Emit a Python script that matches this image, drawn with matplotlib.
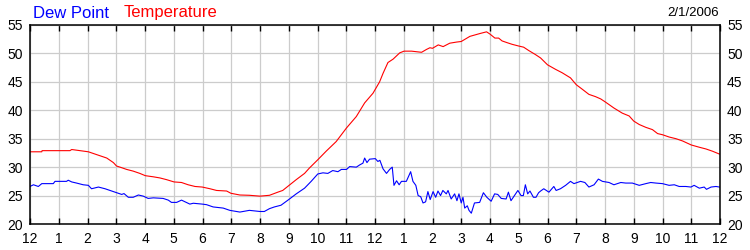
import numpy as np
import matplotlib.pyplot as plt

plt.rcParams['font.family'] = ['Liberation Sans', 'DejaVu Sans']

# hours since midnight
temp_hours = [0.0, 0.41, 0.42, 1.39, 1.45, 1.74, 2.03, 2.32, 2.67, 2.90, 3.01, 3.19, 3.36, 3.59,
              3.82, 4.01, 4.29, 4.52, 4.75, 5.01, 5.27, 5.50, 5.74, 5.99, 6.26, 6.49, 6.84, 6.99,
              7.30, 7.63, 8.0, 8.33, 8.62, 8.79, 9.0, 9.26, 9.55, 9.72, 10.01, 10.30, 10.65, 11.01,
              11.35, 11.64, 11.93, 12.16, 12.28, 12.45, 12.63, 12.86, 13.01, 13.27, 13.62, 13.79,
              13.91, 14.0, 14.20, 14.37, 14.60, 14.84, 15.0, 15.30, 15.65, 15.88, 16.0, 16.17,
              16.30, 16.42, 16.59, 16.77, 17.0, 17.17, 17.35, 17.58, 17.76, 18.0, 18.28, 18.51,
              18.80, 19.0, 19.21, 19.44, 19.67, 19.85, 20.0, 20.31, 20.60, 20.84, 21.0, 21.19,
              21.42, 21.65, 21.83, 22.0, 22.23, 22.47, 22.70, 23.0, 23.28, 23.51, 23.74, 23.98]
temperature = [32.7, 32.7, 32.9, 32.9, 33.1, 32.9, 32.7, 32.2, 31.6, 30.8, 30.2, 29.9, 29.6, 29.3,
               28.9, 28.5, 28.3, 28.1, 27.8, 27.4, 27.3, 26.9, 26.6, 26.5, 26.2, 25.9, 25.8, 25.4,
               25.1, 25.05, 24.9, 25.05, 25.6, 25.9, 26.75, 27.8, 28.9, 29.85, 31.3, 32.8, 34.5, 36.9,
               38.9, 41.3, 43.0, 45.0, 46.5, 48.4, 49.0, 50.1, 50.4, 50.4, 50.2, 50.7,
               51.0, 50.9, 51.5, 51.2, 51.8, 52.0, 52.1, 53.0, 53.5, 53.8, 53.4, 52.7,
               52.7, 52.2, 51.9, 51.6, 51.3, 51.1, 50.5, 49.8, 49.2, 48.0, 47.2, 46.6,
               45.7, 44.5, 43.7, 42.8, 42.4, 42.0, 41.5, 40.4, 39.5, 39.0, 38.1, 37.5,
               37.0, 36.6, 35.9, 35.7, 35.3, 35.0, 34.6, 33.9, 33.5, 33.2, 32.8, 32.3]

dew_hours = [0.0, 0.12, 0.29, 0.41, 0.81, 0.87, 1.27, 1.33, 1.45, 1.62, 1.85, 2.03, 2.14, 2.38,
             2.61, 2.84, 3.01, 3.19, 3.27, 3.42, 3.59, 3.77, 3.94, 4.11, 4.29, 4.63, 4.81, 4.92,
             5.10, 5.27, 5.56, 5.68, 5.99, 6.14, 6.37, 6.72, 6.95, 7.30, 7.63, 8.0, 8.15, 8.33,
             8.5, 8.73, 9.0, 9.26, 9.55, 9.78, 10.01, 10.19, 10.36, 10.53, 10.71, 10.83, 11.01,
             11.12, 11.35, 11.47, 11.58, 11.64, 11.72, 11.81, 12.01, 12.10,
             12.17, 12.28, 12.4, 12.51, 12.6, 12.66, 12.75, 12.84, 12.92, 13.09, 13.24, 13.32,
             13.42, 13.5, 13.59, 13.67, 13.76, 13.84, 13.92, 14.02, 14.11, 14.19, 14.28, 14.36,
             14.48, 14.54, 14.65, 14.77, 14.85, 14.92, 15.0, 15.06, 15.12, 15.21, 15.27, 15.35,
             15.46, 15.64, 15.77, 15.89, 16.04, 16.16, 16.27, 16.39, 16.56, 16.64, 16.73, 16.85,
             16.97, 17.08, 17.16, 17.23, 17.31, 17.39, 17.51, 17.6, 17.69,
             17.76, 17.87, 18.05, 18.22, 18.30, 18.45, 18.63, 18.80, 18.92, 19.15, 19.30, 19.44,
             19.62, 19.77, 19.91, 20.14, 20.31, 20.55, 20.72, 20.95, 21.19, 21.42, 21.59, 21.77,
             22.0, 22.23, 22.41, 22.58, 22.81, 22.99, 23.10, 23.28, 23.45, 23.53, 23.69, 23.86, 23.98]
dew_point = [26.6, 26.9, 26.6, 27.1, 27.1, 27.5, 27.5, 27.7, 27.4, 27.2, 26.9, 26.8, 26.2, 26.5,
             26.2, 25.8, 25.5, 25.2, 25.35, 24.7, 24.7, 25.1, 24.9, 24.5, 24.6, 24.5, 24.2, 23.8,
             23.8, 24.2, 23.5, 23.65, 23.5, 23.4, 23.0, 22.8, 22.4, 22.1, 22.4, 22.2, 22.2, 22.7,
             23.0, 23.3, 24.3, 25.3, 26.3, 27.5, 28.8, 29.0, 28.9, 29.4, 29.2, 29.6, 29.6,
             30.1, 30.0, 30.4, 30.7, 31.6, 30.8, 31.4, 31.5, 31.0,
             31.2, 29.7, 28.9, 29.6, 30.0, 26.8, 27.6, 26.9, 27.5, 27.5, 29.2, 27.5,
             26.8, 25.0, 24.8, 23.7, 23.9, 25.7, 24.3, 25.7, 24.7, 25.8, 25.0, 25.9,
             25.3, 25.9, 24.4, 25.3, 24.1, 25.3, 23.7, 24.7, 22.8, 23.2, 22.4, 21.9,
             23.7, 23.8, 25.5, 24.7, 24.0, 25.3, 25.2, 24.5, 24.4, 25.6, 24.1, 25.0,
             25.9, 25.0, 25.0, 26.9, 25.3, 25.8, 24.7, 24.7, 25.5,
             25.8, 26.2, 25.6, 26.6, 25.9, 26.2, 26.8, 27.5, 27.1, 27.5, 27.3, 26.5,
             26.9, 27.9, 27.5, 27.3, 26.9, 27.3, 27.2, 27.2, 26.8, 27.1, 27.3, 27.2,
             27.1, 26.8, 26.9, 26.6, 26.6, 26.5, 26.8, 26.3, 26.5, 26.1, 26.5, 26.6, 26.5]

hour_labels = ['12', '1', '2', '3', '4', '5', '6', '7', '8', '9', '10', '11',
               '12', '1', '2', '3', '4', '5', '6', '7', '8', '9', '10', '11', '12']
y_ticks = [20, 25, 30, 35, 40, 45, 50, 55]

fig = plt.figure(figsize=(7.5, 2.5), dpi=100)
ax = fig.add_axes([30 / 750, 1 - 224 / 250, 690 / 750, 199 / 250])

ax.plot(temp_hours, temperature, color='#ff0000', linewidth=0.8)
ax.plot(dew_hours, dew_point, color='#0000ff', linewidth=0.8)

ax.set_xlim(0, 24)
ax.set_ylim(20, 55)
ax.set_xticks(np.arange(25))
ax.set_xticklabels(hour_labels)
ax.set_yticks(y_ticks)
ax.grid(True, color='#cccccc', linewidth=0.9)
ax.set_axisbelow(True)

ax.tick_params(axis='x', direction='in', top=True, length=4, width=1, pad=6, labelsize=10)
ax.tick_params(axis='y', length=0, pad=5, labelsize=10, right=True, labelright=True)
for s in ax.spines.values():
    s.set_linewidth(1.1)

fig.text(33 / 750, 1 - 13 / 250, 'Dew Point', color='#0000ff', fontsize=12, va='center')
fig.text(124 / 750, 1 - 13 / 250, 'Temperature', color='#ff0000', fontsize=12, va='center')
fig.text(719 / 750, 1 - 13 / 250, '2/1/2006', color='black', fontsize=9.5, va='center', ha='right')

fig.savefig('out.png', dpi=100)
